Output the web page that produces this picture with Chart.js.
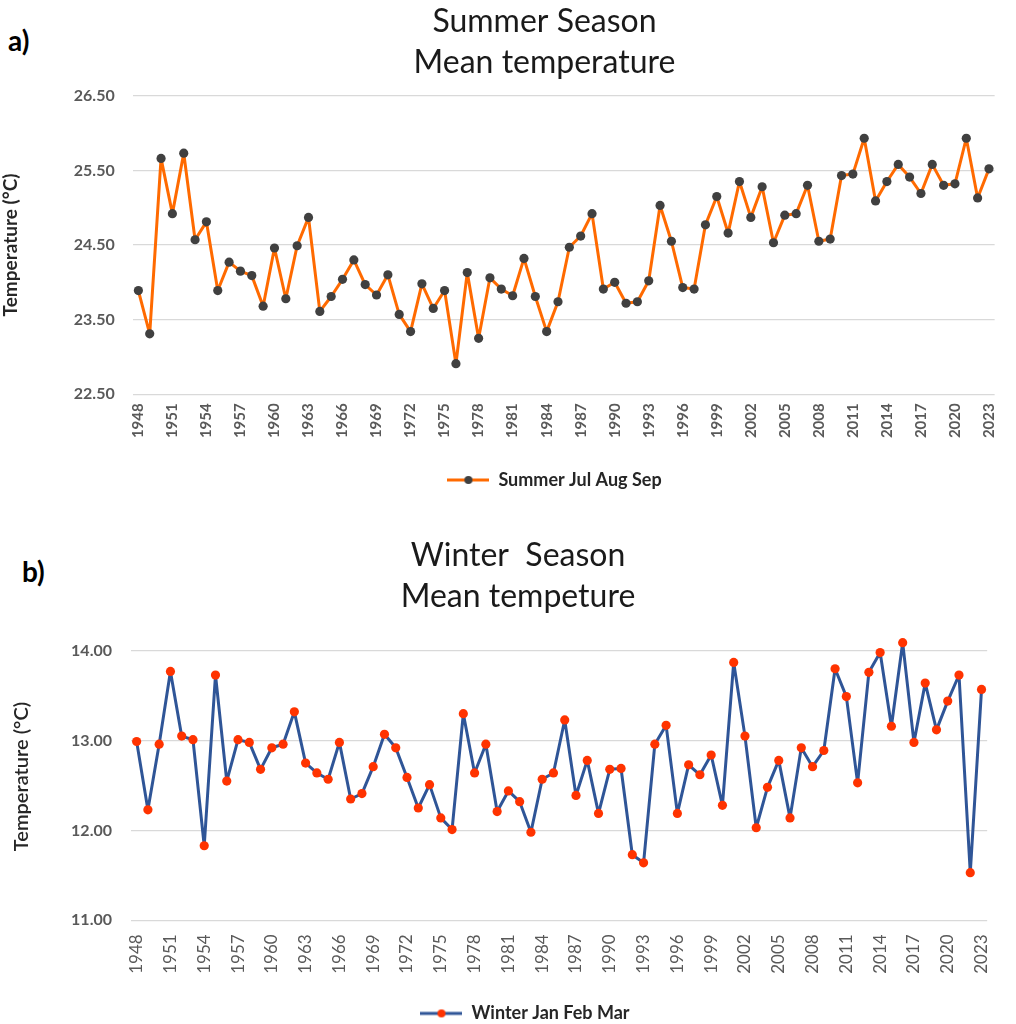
<!DOCTYPE html>
<html>
<head>
<meta charset="utf-8">
<script src="https://cdn.jsdelivr.net/npm/chart.js@4"></script>
<style>
  html, body { margin: 0; padding: 0; background: #fff; width: 1016px; height: 1024px; overflow: hidden; }
  .wrap { position: absolute; left: 0; width: 1016px; }
  .panel { position: absolute; font-family: Lato, sans-serif; font-weight: bold; font-size: 28px; color: #000; }
</style>
</head>
<body>
<div class="panel" style="left:8px; top:23px;">a)</div>
<div class="panel" style="left:22px; top:554px;">b)</div>
<div class="wrap" style="top:0; height:500px;"><canvas id="c1"></canvas></div>
<div class="wrap" style="top:500px; height:524px;"><canvas id="c2"></canvas></div>
<script>
const years = ['1948','1949','1950','1951','1952','1953','1954','1955','1956','1957',
  '1958','1959','1960','1961','1962','1963','1964','1965','1966','1967',
  '1968','1969','1970','1971','1972','1973','1974','1975','1976','1977',
  '1978','1979','1980','1981','1982','1983','1984','1985','1986','1987',
  '1988','1989','1990','1991','1992','1993','1994','1995','1996','1997',
  '1998','1999','2000','2001','2002','2003','2004','2005','2006','2007',
  '2008','2009','2010','2011','2012','2013','2014','2015','2016','2017',
  '2018','2019','2020','2021','2022','2023'];

const summerTemps = [23.89, 23.31, 25.66, 24.92, 25.73, 24.57, 24.81, 23.89, 24.27, 24.15,
  24.09, 23.68, 24.46, 23.78, 24.49, 24.87, 23.61, 23.81, 24.04, 24.30,
  23.97, 23.83, 24.10, 23.57, 23.34, 23.98, 23.65, 23.89, 22.91, 24.13,
  23.25, 24.06, 23.91, 23.82, 24.32, 23.81, 23.34, 23.74, 24.47, 24.62,
  24.92, 23.91, 24.00, 23.72, 23.74, 24.02, 25.03, 24.55, 23.93, 23.91,
  24.77, 25.15, 24.66, 25.35, 24.87, 25.28, 24.53, 24.90, 24.92, 25.30,
  24.55, 24.58, 25.43, 25.45, 25.93, 25.09, 25.35, 25.58, 25.41, 25.19,
  25.58, 25.30, 25.32, 25.93, 25.13, 25.52];

const winterTemps = [12.99, 12.23, 12.96, 13.77, 13.05, 13.01, 11.83, 13.73, 12.55, 13.01,
  12.98, 12.68, 12.92, 12.96, 13.32, 12.75, 12.64, 12.57, 12.98, 12.35,
  12.41, 12.71, 13.07, 12.92, 12.59, 12.25, 12.51, 12.14, 12.01, 13.30,
  12.64, 12.96, 12.21, 12.44, 12.32, 11.98, 12.57, 12.64, 13.23, 12.39,
  12.78, 12.19, 12.68, 12.69, 11.73, 11.64, 12.96, 13.17, 12.19, 12.73,
  12.62, 12.84, 12.28, 13.87, 13.05, 12.03, 12.48, 12.78, 12.14, 12.92,
  12.71, 12.89, 13.80, 13.49, 12.53, 13.76, 13.98, 13.16, 14.09, 12.98,
  13.64, 13.12, 13.44, 13.73, 11.53, 13.57];

const summerTitle = ['Summer Season', 'Mean temperature'];
const winterTitle = ['Winter  Season', 'Mean tempeture'];
const summerLabel = 'Summer Jul Aug Sep';
const winterLabel = 'Winter Jan Feb Mar';
const yTitle = 'Temperature (°C)';
const summerTicks = [22.5, 23.5, 24.5, 25.5, 26.5];
const winterTicks = [11, 12, 13, 14];

function legendIcon(lineColor, dotColor) {
  const c = document.createElement('canvas');
  c.width = 42; c.height = 12;
  const g = c.getContext('2d');
  g.strokeStyle = lineColor; g.lineWidth = 3;
  g.beginPath(); g.moveTo(0, 6); g.lineTo(42, 6); g.stroke();
  g.fillStyle = dotColor;
  g.beginPath(); g.arc(21, 6, 4, 0, Math.PI * 2); g.fill();
  return c;
}

const nudge = {
  id: 'nudge',
  afterLayout(chart, args, opts) {
    if (chart.titleBlock) { chart.titleBlock.left += opts.titleDx; chart.titleBlock.right += opts.titleDx; }
    if (chart.legend) {
      chart.legend.left += opts.legendDx; chart.legend.right += opts.legendDx;
      chart.legend.top += opts.legendDy; chart.legend.bottom += opts.legendDy;
    }
  }
};

function makeChart(id, cfg) {
  const tickVals = cfg.ticks;
  return new Chart(document.getElementById(id), {
    type: 'line',
    data: {
      labels: years,
      datasets: [{
        label: cfg.label,
        data: cfg.values,
        borderColor: cfg.lineColor,
        backgroundColor: cfg.dotColor,
        borderWidth: 3,
        borderJoinStyle: 'round',
        borderCapStyle: 'round',
        pointRadius: 4.6,
        pointHoverRadius: 4.6,
        pointBackgroundColor: cfg.dotColor,
        pointBorderColor: cfg.dotColor,
        pointBorderWidth: 0,
        tension: 0,
        clip: false
      }]
    },
    plugins: [nudge],
    options: {
      responsive: true,
      maintainAspectRatio: false,
      animation: false,
      layout: { padding: { top: 0, left: 0, right: cfg.padRight, bottom: 0 } },
      scales: {
        x: {
          offset: true,
          grid: { display: false, drawTicks: false },
          border: { display: false },
          afterFit(s) { s.height = cfg.xHeight; },
          ticks: {
            autoSkip: false,
            minRotation: 90, maxRotation: 90,
            padding: cfg.xPad,
            color: '#595959',
            font: { family: 'Lato', size: cfg.xFont, weight: cfg.xWeight },
            callback(v, i) { return i % 3 === 0 ? this.getLabelForValue(v) : ''; }
          }
        },
        y: {
          min: tickVals[0], max: cfg.yMax,
          afterFit(s) { s.width = cfg.yWidth; },
          afterBuildTicks(s) { s.ticks = tickVals.map(v => ({ value: v })); },
          grid: { color: '#d9d9d9', lineWidth: 1.3, drawTicks: false },
          border: { display: false },
          ticks: {
            padding: cfg.yPad,
            color: '#595959',
            font: { family: 'Lato', size: 16, weight: 'bold' },
            callback(v) { return Number(v).toFixed(2); }
          },
          title: {
            display: true, text: yTitle,
            color: '#262626',
            font: { family: 'Lato', size: cfg.yTitleSize, weight: cfg.yTitleWeight },
            padding: { top: cfg.yTitlePad, bottom: 0 }
          }
        }
      },
      plugins: {
        tooltip: { enabled: false },
        title: {
          display: true, text: cfg.title,
          color: '#1a1a1a',
          font: { family: 'Lato', size: 32, weight: 'normal', lineHeight: '41px' },
          padding: { top: cfg.titlePadTop, bottom: cfg.titlePadBottom }
        },
        legend: {
          position: 'bottom',
          labels: {
            usePointStyle: true,
            pointStyle: legendIcon(cfg.lineColor, cfg.dotColor),
            pointStyleWidth: 42,
            padding: 10,
            color: '#262626',
            font: { family: 'Lato', size: 18, weight: 'bold' }
          }
        },
        nudge: { titleDx: cfg.titleDx, legendDx: cfg.legendDx, legendDy: cfg.legendDy }
      }
    }
  });
}

makeChart('c1', {
  label: summerLabel, values: summerTemps, ticks: summerTicks, yMax: 26.5, title: summerTitle,
  lineColor: '#ff6a00', dotColor: '#404040',
  padRight: 3, yWidth: 132.7, yPad: 18, yTitleSize: 19, yTitleWeight: 'bold', yTitlePad: -1,
  xHeight: 67.7, xPad: 9, xFont: 15, xWeight: 'bold',
  titlePadTop: 1.5, titlePadBottom: 12.2,
  titleDx: 38, legendDx: 48, legendDy: -1
});

makeChart('c2', {
  label: winterLabel, values: winterTemps, ticks: winterTicks, yMax: 14.2, title: winterTitle,
  lineColor: '#2f5597', dotColor: '#ff3300',
  padRight: 10, yWidth: 131, yPad: 19, yTitleSize: 20, yTitleWeight: '600', yTitlePad: 10,
  xHeight: 65.7, xPad: 14, xFont: 17, xWeight: 'normal',
  titlePadTop: 35.5, titlePadBottom: 15.3,
  titleDx: 15, legendDx: 22, legendDy: 8.4
});
</script>
</body>
</html>
